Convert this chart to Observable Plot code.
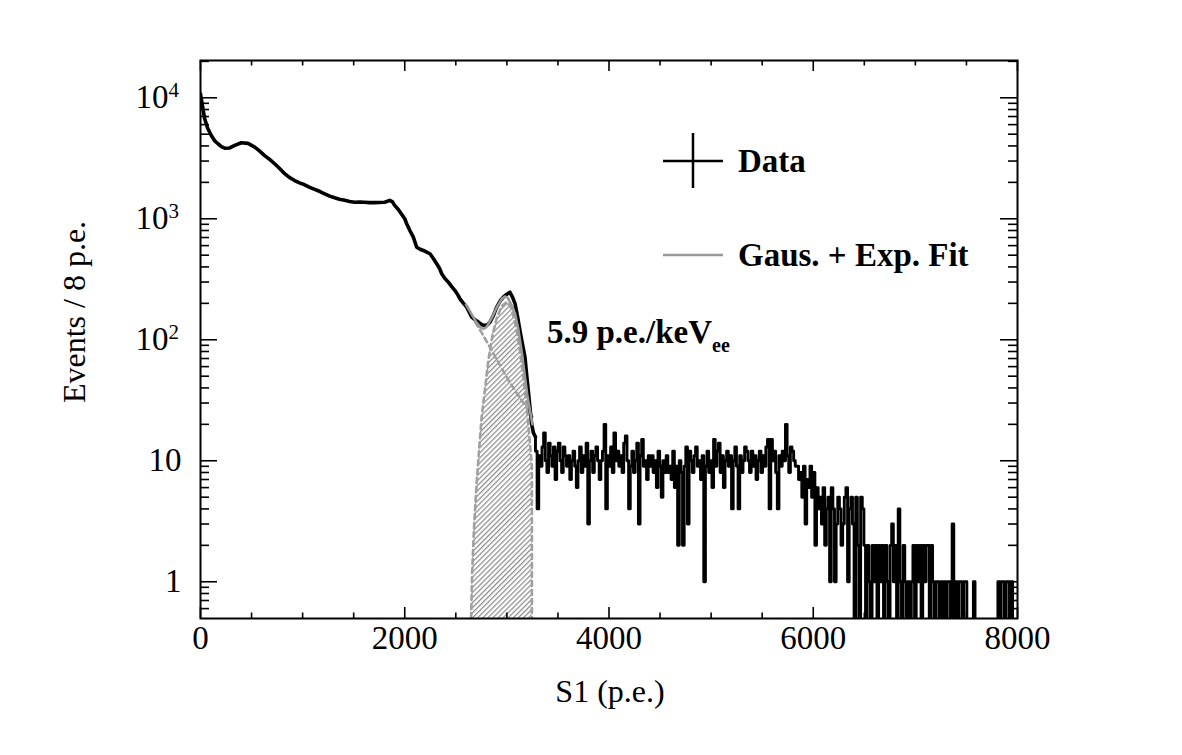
<!DOCTYPE html>
<html><head><meta charset="utf-8">
<script src="https://cdn.jsdelivr.net/npm/d3@7"></script>
<script src="https://cdn.jsdelivr.net/npm/@observablehq/plot@0.6"></script>
<style>
body{margin:0;background:#fff;}
#chart{width:1182px;height:755px;}
</style></head><body><div id="chart"></div>
<script>
// ---- data ----
// smooth part of the S1 spectrum (Events / 8 p.e.)
const smoothX = [0,20,41,70,106,140,171,205,237,286,
  335,400,465,531,580,628,680,726,775,824,
  870,922,970,1020,1070,1118,1170,1216,1265,1314,
  1360,1412,1460,1510,1560,1607,1650,1706,1750,1804,
  1853,1880,1901,1935,1966,2000,2019,2050,2084,2117,
  2150,2182,2215,2247,2280,2313,2340,2362,2395,2427,
  2460,2492,2520,2541,2575,2607,2630,2656,2690,2721,
  2755,2786,2810,2835,2870,2900,2935,2965,3000,3030,
  3055,3080,3105,3128,3150,3177,3195,3210,3227,3243,
  3260,3280];
const smoothY = [10800,8500,6700,5600,4880,4400,4170,3950,3830,3850,
  4040,4250,4200,3910,3620,3330,3080,2850,2600,2360,
  2200,2070,1980,1910,1820,1750,1680,1610,1540,1490,
  1450,1420,1390,1370,1375,1370,1360,1360,1365,1370,
  1420,1380,1290,1200,1100,1000,910,800,705,582,
  560,547,530,514,470,425,390,351,320,299,
  275,255,235,218,200,186,170,154,146,140,
  133,131,133,140,160,186,210,225,238,247,
  225,199,155,119,95,72,50,38,27,20,
  17,15.7];
// noisy tail, 16 p.e. bins starting at 3280 p.e.
const binStart = 3280;
const binWidth = 16;
const tailCounts = [
12,4,11,9,13,17,10,8,14,11,
9,13,7,12,14,10,8,13,11,9,
11,7,10,12,9,6,10,13,8,11,
9,14,3,10,12,8,11,13,10,7,
10,12,20,4,11,9,13,8,17,10,
12,9,11,8,14,16,10,4,9,12,
8,10,14,3,11,15,9,10,7,11,
9,11,8,10,6,12,9,5,10,8,
11,8,9,7,12,6,9,2,10,8,
2,9,13,3,12,10,8,11,13,9,
10,7,11,1,9,12,8,10,6,15,
9,12,14,8,11,6,10,12,9,11,
4,10,13,9,4,11,8,10,13,12,
10,8,12,9,11,7,10,12,8,11,
9,13,15,4,15,10,12,8,4,11,
9,12,10,20,11,8,13,12,10,9,
9,7,8,5,9,3,7,6,9,5,
8,2,6,4,5,3,6,2,4,5,
1,6,4,1,3,5,4,2,3,5,
6,1,4,5,3,0,5,2,0,5,
4,2,0,2,1,0,2,1,2,0,
2,1,2,0,2,1,0,2,3,1,
2,0,4,1,0,2,1,0,1,0,
1,2,0,2,1,2,0,2,1,2,
2,0,2,1,0,1,1,0,1,0,
1,0,1,1,0,3,0,1,0,1,
1,0,1,1,0,0,0,0,1,0,
0,0,0,0,0,0,0,0,0,0,
0,0,0,1,0,1,1,0,1,1,
0,1,0,0,0];
// Gaus. + Exp. fit
const fitX = [2600,2650,2700,2740,2769,2800,2850,2900,2950,2981,3010,3050,3080,3110,3128,3150,3177,3200,3226,3250];
const fitY = [195,165,140,127,123,127,150,185,218,228,222,190,164,125,99,75,49,35,26,20];
// exponential component (dashed)
const expX = [2600,2757,3030,3226,3250];
const expY = [187,113,44,25,23];
// gaussian component (dashed, hatched)
const gausX = [2645,2650,2660,2680,2704,2730,2753,2790,2818,2860,2900,2950,3000,3040,3080,3120,3160,3200,3245,3245];
const gausY = [0,0.5,1.2,3,6.5,13,23,42,67,110,150,190,205,185,140,90,50,25,9,0];
// axis ticks
const xMajorTicks = [0,2000,4000,6000,8000];
const xMinorTicks = [500,1000,1500,2500,3000,3500,4500,5000,5500,6500,7000,7500];
const yMajorTicks = [1,10,100,1000,10000];
const yMinorTicks = [0.6,0.7,0.8,0.9,2,3,4,5,6,7,8,9,20,30,40,50,60,70,80,90,200,300,400,500,600,700,800,900,2000,3000,4000,5000,6000,7000,8000,9000,20000];
const yTickBase = ["10","10","10","10","1"];
const yTickSup = ["4","3","2","",""];
const yTickVals = [10000,1000,100,10,1];

// ---- build tables ----
const floorV = 0.3;
const smooth = smoothX.map((x,i)=>({x, y: smoothY[i]}));
const tail = [];
tailCounts.forEach((c,i)=>{
  const x0 = binStart + i*binWidth;
  const v = c > 0 ? c : floorV;
  tail.push({x: x0, y: v});
  tail.push({x: Math.min(x0 + binWidth, 8000), y: v});
});
tail.unshift({x: smooth[smooth.length-1].x, y: smooth[smooth.length-1].y});
const fit = fitX.map((x,i)=>({x, y: fitY[i]}));
const expo = expX.map((x,i)=>({x, y: expY[i]}));
const gaus = gausX.map((x,i)=>({x, y: gausY[i] > 0 ? gausY[i] : floorV}));
const yLab = yTickVals.map((v,i)=>({v, base: yTickBase[i], sup: yTickSup[i]}));

const W = 1182, H = 755, mL = 200, mR = 165, mT = 60, mB = 137;
const PW = W - mL - mR, PH = H - mT - mB;
const serif = "'Liberation Serif','Times New Roman',Times,serif";

const svg = Plot.plot({
  width: W, height: H,
  marginLeft: mL, marginRight: mR, marginTop: mT, marginBottom: mB,
  style: {fontFamily: serif, background: "white", color: "black", overflow: "visible"},
  x: {domain: [0, 8000], axis: null},
  y: {type: "log", domain: [0.497, 20330], axis: null},
  marks: [
    Plot.areaY(gaus, {x: "x", y1: floorV, y2: "y", fill: "url(#hatch)", clip: true}),
    Plot.line(gaus, {x: "x", y: "y", stroke: "#a0a0a0", strokeWidth: 2.6, strokeDasharray: "5,4", clip: true}),
    Plot.line(expo, {x: "x", y: "y", stroke: "#a0a0a0", strokeWidth: 2.6, strokeDasharray: "5,4", clip: true}),
    Plot.line(smooth, {x: "x", y: "y", stroke: "black", strokeWidth: 3.6, clip: true}),
    Plot.line(tail, {x: "x", y: "y", stroke: "black", strokeWidth: 2.9, clip: true}),
    Plot.line(fit, {x: "x", y: "y", stroke: "#999999", strokeWidth: 2.6, clip: true}),
    // inner ticks on all four sides
    Plot.tickX(xMajorTicks, {x: d=>d, insetTop: PH - 11, stroke: "black", strokeWidth: 1.6}),
    Plot.tickX(xMinorTicks, {x: d=>d, insetTop: PH - 5.5, stroke: "black", strokeWidth: 1.6}),
    Plot.tickX(xMajorTicks, {x: d=>d, insetBottom: PH - 11, stroke: "black", strokeWidth: 1.6}),
    Plot.tickX(xMinorTicks, {x: d=>d, insetBottom: PH - 5.5, stroke: "black", strokeWidth: 1.6}),
    Plot.tickY(yMajorTicks, {y: d=>d, insetRight: PW - 17, stroke: "black", strokeWidth: 1.6}),
    Plot.tickY(yMinorTicks, {y: d=>d, insetRight: PW - 9, stroke: "black", strokeWidth: 1.6}),
    Plot.tickY(yMajorTicks, {y: d=>d, insetLeft: PW - 17, stroke: "black", strokeWidth: 1.6}),
    Plot.tickY(yMinorTicks, {y: d=>d, insetLeft: PW - 9, stroke: "black", strokeWidth: 1.6}),
    Plot.frame({stroke: "black", strokeWidth: 2}),
    // tick labels
    Plot.text(xMajorTicks, {x: d=>d, frameAnchor: "bottom", dy: 30, text: d=>String(d), fontSize: 33, fill: "black"}),
    Plot.text(yLab.filter(d=>d.sup), {y: "v", frameAnchor: "left", dx: -32, textAnchor: "end", text: "base", fontSize: 33, fill: "black"}),
    Plot.text(yLab.filter(d=>d.sup), {y: "v", frameAnchor: "left", dx: -32, dy: -8, textAnchor: "start", text: "sup", fontSize: 21, fill: "black"}),
    Plot.text(yLab.filter(d=>!d.sup), {y: "v", frameAnchor: "left", dx: -19, textAnchor: "end", text: "base", fontSize: 33, fill: "black"})
  ]
});

const s = d3.select(svg);
const defs = s.insert("defs", ":first-child");
const pat = defs.append("pattern").attr("id", "hatch").attr("patternUnits", "userSpaceOnUse")
  .attr("width", 3.6).attr("height", 3.6).attr("patternTransform", "rotate(45)");
pat.append("rect").attr("width", 3.6).attr("height", 3.6).attr("fill", "white");
pat.append("line").attr("x1", 0.6).attr("y1", 0).attr("x2", 0.6).attr("y2", 3.6)
  .attr("stroke", "#808080").attr("stroke-width", 1.1);

const g = s.append("g").attr("font-family", serif).attr("fill", "black").attr("text-anchor", "start");
// axis titles
g.append("text").attr("x", 610).attr("y", 702).attr("text-anchor", "middle")
  .attr("font-size", 32).text("S1 (p.e.)");
g.append("text").attr("transform", "translate(85,312) rotate(-90)").attr("text-anchor", "middle")
  .attr("font-size", 32).text("Events / 8 p.e.");
// annotation
const ann = g.append("text").attr("x", 547).attr("y", 343).attr("text-anchor", "start")
  .attr("font-size", 33).attr("font-weight", "bold");
ann.append("tspan").text("5.9 p.e./keV");
ann.append("tspan").attr("font-size", 20).attr("dy", 9).text("ee");
// legend
g.append("line").attr("x1", 663).attr("x2", 723).attr("y1", 161).attr("y2", 161).attr("stroke", "black").attr("stroke-width", 2.5);
g.append("line").attr("x1", 693).attr("x2", 693).attr("y1", 133).attr("y2", 188).attr("stroke", "black").attr("stroke-width", 2.5);
g.append("text").attr("x", 738).attr("y", 172).attr("text-anchor", "start").attr("font-size", 33).attr("font-weight", "bold").text("Data");
g.append("line").attr("x1", 663).attr("x2", 723).attr("y1", 255).attr("y2", 255).attr("stroke", "#999999").attr("stroke-width", 2.6);
g.append("text").attr("x", 738).attr("y", 266).attr("text-anchor", "start").attr("font-size", 33).attr("font-weight", "bold").text("Gaus. + Exp. Fit");

document.getElementById("chart").appendChild(svg);
</script></body></html>
